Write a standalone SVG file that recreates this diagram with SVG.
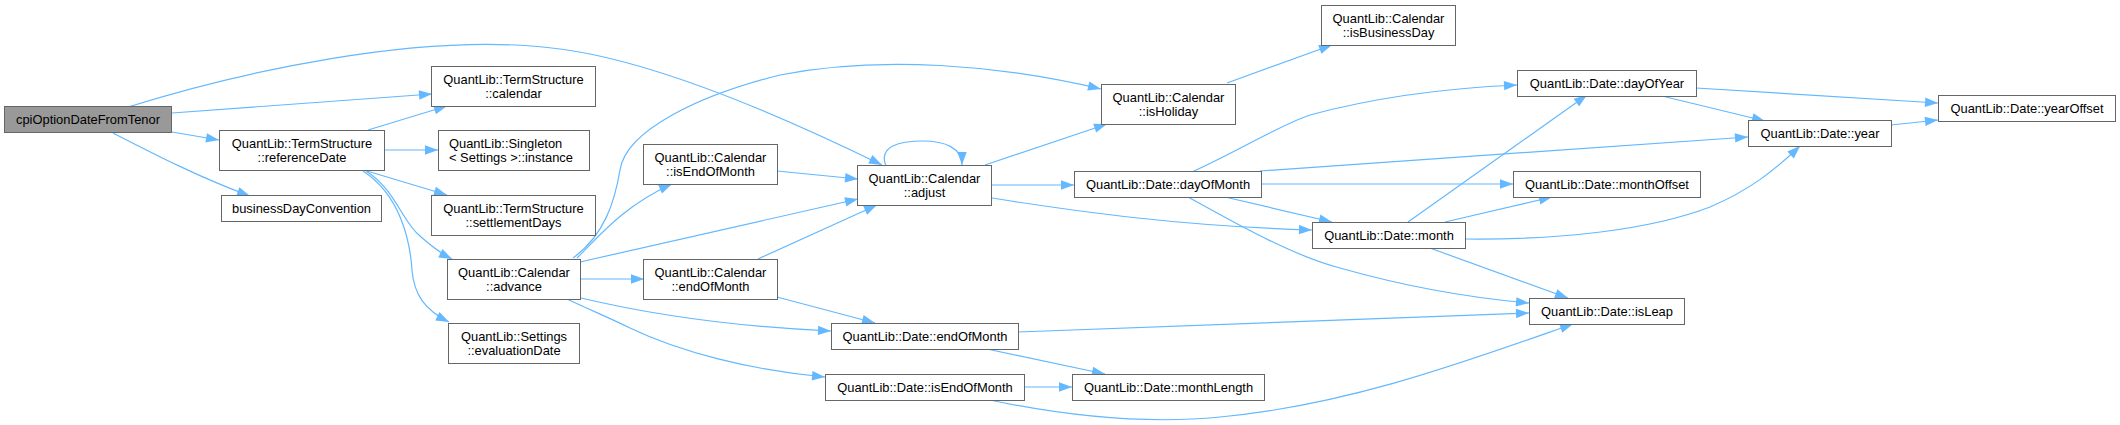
<svg xmlns="http://www.w3.org/2000/svg" width="2120" height="425" viewBox="0 0 2120 425">
<defs>
<marker id="arr" markerUnits="userSpaceOnUse" markerWidth="14" markerHeight="10" viewBox="0 0 13 10" refX="13" refY="5" orient="auto">
<path d="M0,0.3 L13,5 L0,9.7 z" fill="#63B8FF"/>
</marker>
<style>
.n rect{fill:#ffffff;stroke:#666666;stroke-width:1}
.r rect{fill:#999999;stroke:#666666;stroke-width:1}
text{font-family:"Liberation Sans",Arial,Helvetica,sans-serif;font-size:12.9px;fill:#000000;text-anchor:middle}
.l{text-anchor:start}
.e path{fill:none;stroke:#63B8FF;stroke-width:1.2;marker-end:url(#arr)}
</style>
</defs>
<rect width="2120" height="425" fill="#ffffff"/>
<g id="edges" class="e">
<path d="M128,107 C230,75 420,30 560,49 C660,62 790,120 882,165"/>
<path d="M172,113 L432,94"/>
<path d="M172,132 L219,140"/>
<path d="M113,133 C150,152 200,178 250,196"/>
<path d="M368,130 L447,106"/>
<path d="M384,150 L438,150"/>
<path d="M367,171 L447,195"/>
<path d="M366,171 C396,190 402,222 420,236 C430,245 440,253 452,259"/>
<path d="M363,171 C400,195 410,240 412,270 C414,295 425,310 449,322"/>
<path d="M573,258 C605,235 615,200 620,170 C626,130 700,95 780,75 C880,55 1000,65 1101,89"/>
<path d="M577,258 C600,235 625,205 672,184"/>
<path d="M580,262 L858,199"/>
<path d="M581,279 L644,279"/>
<path d="M581,298 C640,312 720,326 831,331"/>
<path d="M567,299 C590,310 610,318 630,328 C680,352 750,370 825,377"/>
<path d="M777,171 L858,179"/>
<path d="M758,259 L877,205"/>
<path d="M777,297 L875,323"/>
<path d="M886,166 C878,146 900,141 923,141 C945,141 962,148 962,165"/>
<path d="M985,165 L1107,124"/>
<path d="M992,185 L1074,185"/>
<path d="M992,198 C1080,212 1180,226 1312,230"/>
<path d="M1227,83 L1332,45"/>
<path d="M1194,171 C1240,150 1280,125 1310,115 C1380,96 1450,88 1517,85"/>
<path d="M1260,171 L1748,137"/>
<path d="M1261,184 L1513,184"/>
<path d="M1225,197 L1332,222"/>
<path d="M1188,197 C1230,220 1290,255 1340,268 C1400,285 1460,297 1529,303"/>
<path d="M1018,332 L1529,313"/>
<path d="M987,349 L1105,374"/>
<path d="M1024,387 L1072,387"/>
<path d="M985,399 C1060,415 1140,425 1220,417 C1350,405 1470,360 1573,324"/>
<path d="M1696,88 L1938,103"/>
<path d="M1662,96 L1765,121"/>
<path d="M1891,125 L1938,120"/>
<path d="M1408,222 L1587,95"/>
<path d="M1445,222 L1552,197"/>
<path d="M1465,239 C1560,240 1650,230 1710,207 C1750,190 1775,170 1800,146"/>
<path d="M1427,247 L1568,298"/>
</g>
<g id="cpi" class="r"><rect x="4.5" y="106.5" width="167" height="26"/><text x="88" y="124">cpiOptionDateFromTenor</text></g>
<g id="ts_calendar" class="n"><rect x="431.5" y="66.5" width="164" height="40"/><text x="513.5" y="83.5">QuantLib::TermStructure</text><text x="513.5" y="97.5">::calendar</text></g>
<g id="ts_referenceDate" class="n"><rect x="219.5" y="130.5" width="165" height="40"/><text x="302" y="147.5">QuantLib::TermStructure</text><text x="302" y="161.5">::referenceDate</text></g>
<g id="businessDayConvention" class="n"><rect x="221.5" y="195.5" width="160" height="26"/><text x="301.5" y="212.5">businessDayConvention</text></g>
<g id="singleton_instance" class="n"><rect x="438.5" y="130.5" width="151" height="40"/><text class="l" x="449" y="147.5">QuantLib::Singleton</text><text class="l" x="449" y="161.5">&lt; Settings &gt;::instance</text></g>
<g id="ts_settlementDays" class="n"><rect x="431.5" y="195.5" width="164" height="40"/><text x="513.5" y="212.5">QuantLib::TermStructure</text><text x="513.5" y="226.5">::settlementDays</text></g>
<g id="cal_advance" class="n"><rect x="447.5" y="259.5" width="133" height="40"/><text x="514" y="276.5">QuantLib::Calendar</text><text x="514" y="290.5">::advance</text></g>
<g id="settings_evaluationDate" class="n"><rect x="448.5" y="323.5" width="131" height="40"/><text x="514" y="340.5">QuantLib::Settings</text><text x="514" y="354.5">::evaluationDate</text></g>
<g id="cal_isEndOfMonth" class="n"><rect x="643.5" y="144.5" width="134" height="40"/><text x="710.5" y="161.5">QuantLib::Calendar</text><text x="710.5" y="175.5">::isEndOfMonth</text></g>
<g id="cal_endOfMonth" class="n"><rect x="643.5" y="259.5" width="134" height="40"/><text x="710.5" y="276.5">QuantLib::Calendar</text><text x="710.5" y="290.5">::endOfMonth</text></g>
<g id="cal_adjust" class="n"><rect x="857.5" y="165.5" width="134" height="40"/><text x="924.5" y="182.5">QuantLib::Calendar</text><text x="924.5" y="196.5">::adjust</text></g>
<g id="cal_isHoliday" class="n"><rect x="1101.5" y="84.5" width="134" height="40"/><text x="1168.5" y="101.5">QuantLib::Calendar</text><text x="1168.5" y="115.5">::isHoliday</text></g>
<g id="cal_isBusinessDay" class="n"><rect x="1321.5" y="5.5" width="134" height="40"/><text x="1388.5" y="22.5">QuantLib::Calendar</text><text x="1388.5" y="36.5">::isBusinessDay</text></g>
<g id="date_dayOfMonth" class="n"><rect x="1074.5" y="171.5" width="187" height="26"/><text x="1168" y="188.5">QuantLib::Date::dayOfMonth</text></g>
<g id="date_endOfMonth" class="n"><rect x="831.5" y="323.5" width="187" height="26"/><text x="925" y="340.5">QuantLib::Date::endOfMonth</text></g>
<g id="date_isEndOfMonth" class="n"><rect x="825.5" y="374.5" width="199" height="26"/><text x="925" y="391.5">QuantLib::Date::isEndOfMonth</text></g>
<g id="date_monthLength" class="n"><rect x="1072.5" y="374.5" width="192" height="26"/><text x="1168.5" y="391.5">QuantLib::Date::monthLength</text></g>
<g id="date_dayOfYear" class="n"><rect x="1517.5" y="70.5" width="179" height="26"/><text x="1607" y="87.5">QuantLib::Date::dayOfYear</text></g>
<g id="date_monthOffset" class="n"><rect x="1513.5" y="171.5" width="187" height="26"/><text x="1607" y="188.5">QuantLib::Date::monthOffset</text></g>
<g id="date_month" class="n"><rect x="1312.5" y="222.5" width="153" height="26"/><text x="1389" y="239.5">QuantLib::Date::month</text></g>
<g id="date_year" class="n"><rect x="1748.5" y="120.5" width="143" height="26"/><text x="1820" y="137.5">QuantLib::Date::year</text></g>
<g id="date_yearOffset" class="n"><rect x="1938.5" y="95.5" width="177" height="26"/><text x="2027" y="112.5">QuantLib::Date::yearOffset</text></g>
<g id="date_isLeap" class="n"><rect x="1529.5" y="298.5" width="155" height="26"/><text x="1607" y="315.5">QuantLib::Date::isLeap</text></g>
</svg>
